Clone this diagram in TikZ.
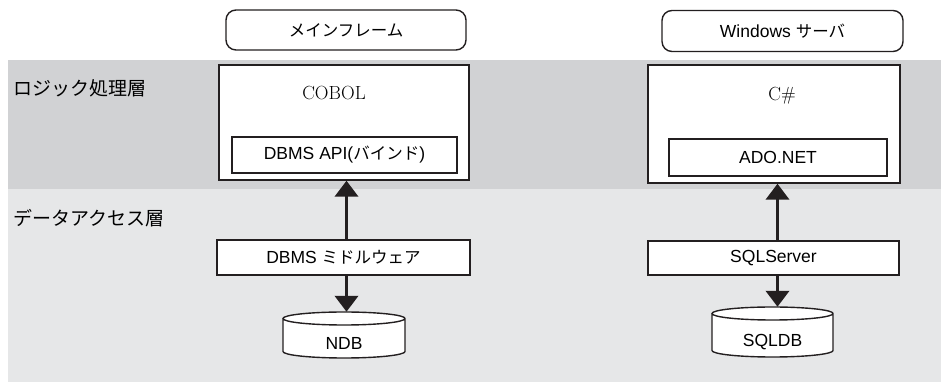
\documentclass[tikz,border=0pt]{standalone}
\usepackage{fontspec}
\setmainfont{Liberation Sans}
\newfontfamily\jp{Noto Sans CJK JP}
\newfontfamily\lmr{Latin Modern Roman}
\usetikzlibrary{arrows.meta,positioning,calc}
\definecolor{logicgray}{RGB}{209,210,212}
\definecolor{datagray}{RGB}{230,231,232}
\definecolor{ink}{RGB}{35,31,32}
\tikzset{
    box/.style={draw=ink, line width=1.4pt, fill=white, inner sep=0pt, font=\fontsize{17.5}{20}\selectfont},
    host/.style={box, rounded corners=10pt},
    layer/.style={anchor=west, inner sep=0pt, font=\jp\fontsize{19}{22}\selectfont},
    lang/.style={inner sep=0pt, font=\lmr\fontsize{19}{22}\selectfont},
    db/.style={inner sep=0pt, text height=30pt, text depth=0pt, font=\fontsize{17.5}{20}\selectfont},
    dbline/.style={draw=ink, line width=1.4pt, fill=white},
    link/.style={draw=ink, line width=3.8pt, -{Triangle[length=16pt,width=23pt]}}
}

\begin{document}
\begin{tikzpicture}[x=1pt, y=1pt]
    \useasboundingbox (0,0) rectangle (941,382);
    % layers
    \fill[logicgray] (8,193) rectangle (941,322);
    \fill[datagray] (8,0) rectangle (941,193);
    \node[layer] (logic) at (13,294) {ロジック処理層};
    \node[layer] (data) at (13,164) {データアクセス層};

    % hosts
    \node[host, minimum width=240, minimum height=40] (mainframe) at (346,352) {\jp\fontsize{16.5}{20}\selectfont メインフレーム};
    \node[host, minimum width=241, minimum height=41] (winsv) at (782.5,351) {Windows {\jp\fontsize{16.5}{20}\selectfont サーバ}};

    % logic layer
    \node[box, minimum width=250, minimum height=115] (cobol) at (344,259.5) {};
    \node[lang] (cobol-txt) at (334,289) {COBOL};
    \node[box, minimum width=225, minimum height=36] (api) at (344.5,227) {DBMS API({\jp\fontsize{16.5}{20}\selectfont バインド})};
    \node[box, minimum width=252, minimum height=118] (csharp) at (774,258) {};
    \node[lang] (csharp-txt) at (782,286) {C\#};
    \node[box, minimum width=218, minimum height=37] (ado) at (778,224.5) {ADO.NET};

    % data access layer
    \node[box, minimum width=253, minimum height=35] (mw) at (343.5,124.5) {DBMS {\jp\fontsize{16.5}{20}\selectfont ミドルウェア}};
    \node[box, minimum width=251, minimum height=34] (sqlsv) at (773.5,124) {SQLServer};
    \foreach \n/\x/\y/\rx/\hh/\t in {ndb/344/47/61/23/NDB, sqldb/772.5/50/60.5/25/SQLDB} {
        \filldraw[dbline] (\x-\rx,\y+\hh-6.5) -- (\x-\rx,\y-\hh+6.5)
            arc[start angle=180, end angle=360, x radius=\rx, y radius=6.5]
            -- (\x+\rx,\y+\hh-6.5)
            arc[start angle=0, end angle=360, x radius=\rx, y radius=6.5];
        \node[db, minimum width=2*\rx, minimum height=2*\hh] (\n) at (\x,\y) {\t};
    }

    \foreach \mw/\ap/\dbn/\dx in {mw/cobol/ndb/3pt, sqlsv/csharp/sqldb/4pt} {
        \draw[link] ([xshift=\dx]\mw.north) -- ([xshift=\dx]\mw.north |- \ap.south);
        \draw[link] ([xshift=\dx]\mw.south) -- ([xshift=\dx]\mw.south |- \dbn.north);
    }
\end{tikzpicture}
\end{document}
